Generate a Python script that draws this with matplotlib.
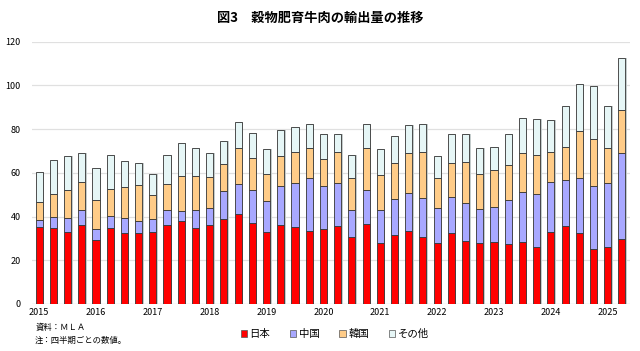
import matplotlib
matplotlib.use("Agg")
import matplotlib.pyplot as plt
from matplotlib.patches import Rectangle
import numpy as np

plt.rcParams['font.family'] = ['Noto Sans CJK JP', 'DejaVu Sans']

years = ['2015', '2016', '2017', '2018', '2019', '2020', '2021', '2022', '2023', '2024', '2025']
# cumulative tops (quarterly, 2015Q1 - 2025Q2)
japan = [35.4, 34.6, 32.9, 36.0, 29.1, 34.8, 32.3, 32.3, 32.9, 36.0, 37.8, 34.8,
         36.0, 38.9, 41.0, 36.9, 32.9, 36.0, 35.2, 33.4, 34.1, 35.5, 30.5, 36.4,
         27.7, 31.7, 33.6, 30.8, 27.7, 32.3, 28.8, 27.7, 28.4, 27.3, 28.2, 26.2,
         32.8, 35.5, 32.3, 25.0, 26.2, 29.6]
top_china = [38.4, 39.9, 39.5, 42.8, 34.1, 40.2, 39.5, 38.1, 39.0, 43.1, 42.5, 42.8,
             44.1, 51.5, 54.7, 52.0, 47.3, 53.8, 55.2, 57.5, 53.8, 55.2, 43.0, 52.0,
             43.0, 47.9, 50.7, 48.3, 43.8, 48.8, 46.3, 43.3, 44.2, 47.4, 51.2, 50.5,
             55.6, 56.6, 57.5, 54.0, 55.2, 68.9]
top_korea = [46.5, 50.5, 52.0, 55.8, 47.4, 52.7, 53.4, 54.3, 49.7, 54.7, 58.4, 58.5,
             57.9, 64.0, 71.6, 66.6, 59.5, 67.5, 69.4, 71.6, 66.2, 69.4, 57.5, 71.2,
             58.8, 64.3, 68.9, 69.4, 57.5, 64.3, 64.8, 59.3, 61.1, 63.4, 68.9, 68.4,
             69.4, 71.8, 79.0, 75.3, 71.2, 89.0]
total = [60.2, 65.9, 67.8, 68.9, 62.3, 68.0, 65.5, 64.3, 59.5, 68.0, 73.8, 71.2,
         68.9, 74.8, 83.1, 78.4, 70.7, 79.6, 81.1, 82.5, 77.6, 77.9, 68.4, 82.5,
         70.9, 76.7, 81.7, 82.2, 67.5, 77.7, 78.0, 71.6, 72.0, 77.6, 84.9, 84.5,
         84.0, 90.4, 100.9, 99.7, 90.4, 112.8]

japan = np.array(japan)
china = np.array(top_china) - japan
korea = np.array(top_korea) - np.array(top_china)
other = np.array(total) - np.array(top_korea)

series = [('日本', japan, '#FF0000'), ('中国', china, '#A8A8FF'),
          ('韓国', korea, '#FFCC88'), ('その他', other, '#E6F6F6')]

fig = plt.figure(figsize=(6.4, 3.51), dpi=100)
ax = fig.add_axes([0.05, 0.134, 0.934, 0.747])
x = np.arange(len(japan))
w = 0.5
bottom = np.zeros(len(japan))
# shadow
ax.bar(x + 0.1, np.array(total), width=w, bottom=0, color='#C4CCCC', zorder=2)
for name, vals, col in series:
    ax.bar(x, vals, width=w, bottom=bottom, color=col, edgecolor='#333333',
           linewidth=0.6, zorder=3, label=name)
    bottom = bottom + vals

ax.set_xlim(-0.5, 41.55)
ax.set_ylim(0, 120)
ax.set_yticks(range(0, 121, 20))
ax.grid(axis='y', color='#E0E0E0', linewidth=0.9, zorder=0)
ax.set_xticks(np.arange(0, 42, 4))
ax.set_xticklabels(years)
ax.tick_params(axis='both', length=0, labelsize=6.5, pad=3)
ax.tick_params(axis='y', pad=8)
for s in ax.spines.values():
    s.set_visible(False)
ax.axhline(0, color='#CCCCCC', linewidth=0.8, zorder=1)

fig.text(0.5, 0.948, '図3　穀物肥育牛肉の輸出量の推移', ha='center', va='center',
         fontsize=9.5, fontweight='bold')
fig.text(0.055, 0.066, '資料：ＭＬＡ', fontsize=6, va='center')
fig.text(0.055, 0.031, '注：四半期ごとの数値。', fontsize=6, va='center')

handles = [Rectangle((0, 0), 1, 1, facecolor=c, edgecolor='#555555', linewidth=0.5)
           for _, _, c in series]
fig.legend(handles, [n for n, _, _ in series], loc='center', bbox_to_anchor=(0.523, 0.048),
           ncol=4, frameon=False, fontsize=7.5, handlelength=0.6, handleheight=0.6,
           handletextpad=0.25, columnspacing=1.9)

fig.savefig('out.png', dpi=100)
